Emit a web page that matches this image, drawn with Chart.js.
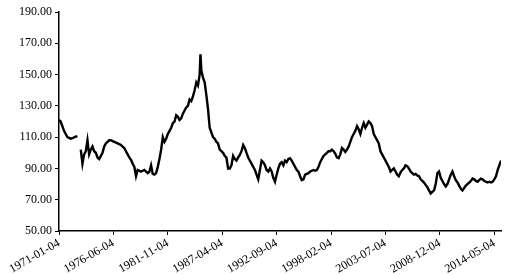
<!DOCTYPE html>
<html lang="zh-cn">
<head>
  <meta charset="UTF-8">
  <title>美元指数</title>
  <script src="https://cdn.jsdelivr.net/npm/chart.js"></script>
  <style>
    body { margin: 0; background: #fff; }
    .grafico { width: 506px; height: 275px; position: relative; }
  </style>
</head>
<body>
  <div class="grafico">
    <canvas id="dxyChart"></canvas>
  </div>

  <script>
    // Datas de cada ponto (ano-mês) e valores
    const dates = [
      '1971-01','1971-03','1971-05','1971-07','1971-09','1971-11',
      '1972-01','1972-03','1972-05','1972-07','1972-09','1972-11',
      '1973-01','1973-03','1973-05','1973-07','1973-09','1973-11',
      '1974-01','1974-03','1974-05','1974-07','1974-09','1974-11',
      '1975-01','1975-03','1975-05','1975-07','1975-09','1975-11',
      '1976-01','1976-03','1976-05','1976-07','1976-09','1976-11',
      '1977-01','1977-03','1977-05','1977-07','1977-09','1977-11',
      '1978-01','1978-03','1978-05','1978-07','1978-09','1978-11',
      '1979-01','1979-03','1979-05','1979-07','1979-09','1979-11',
      '1980-01','1980-03','1980-05','1980-07','1980-09','1980-11',
      '1981-01','1981-03','1981-05','1981-07','1981-09','1981-11',
      '1982-01','1982-03','1982-05','1982-07','1982-09','1982-11',
      '1983-01','1983-03','1983-05','1983-07','1983-09','1983-11',
      '1984-01','1984-03','1984-05','1984-07','1984-09','1984-11',
      '1985-01','1985-02','1985-03','1985-05','1985-07','1985-09','1985-11',
      '1986-01','1986-03','1986-05','1986-07','1986-09','1986-11',
      '1987-01','1987-03','1987-05','1987-07','1987-09','1987-11',
      '1988-01','1988-03','1988-05','1988-07','1988-09','1988-11',
      '1989-01','1989-03','1989-05','1989-07','1989-09','1989-11',
      '1990-01','1990-03','1990-05','1990-07','1990-09','1990-11',
      '1991-01','1991-03','1991-05','1991-07','1991-09','1991-11',
      '1992-01','1992-03','1992-05','1992-07','1992-09','1992-11',
      '1993-01','1993-03','1993-05','1993-07','1993-09','1993-11',
      '1994-01','1994-03','1994-05','1994-07','1994-09','1994-11',
      '1995-01','1995-03','1995-05','1995-07','1995-09','1995-11',
      '1996-01','1996-03','1996-05','1996-07','1996-09','1996-11',
      '1997-01','1997-03','1997-05','1997-07','1997-09','1997-11',
      '1998-01','1998-03','1998-05','1998-07','1998-09','1998-11',
      '1999-01','1999-03','1999-05','1999-07','1999-09','1999-11',
      '2000-01','2000-03','2000-05','2000-07','2000-09','2000-11',
      '2001-01','2001-03','2001-05','2001-07','2001-09','2001-11',
      '2002-01','2002-03','2002-05','2002-07','2002-09','2002-11',
      '2003-01','2003-03','2003-05','2003-07','2003-09','2003-11',
      '2004-01','2004-03','2004-05','2004-07','2004-09','2004-11',
      '2005-01','2005-03','2005-05','2005-07','2005-09','2005-11',
      '2006-01','2006-03','2006-05','2006-07','2006-09','2006-11',
      '2007-01','2007-03','2007-05','2007-07','2007-09','2007-11',
      '2008-01','2008-03','2008-05','2008-07','2008-09','2008-11',
      '2009-01','2009-03','2009-05','2009-07','2009-09','2009-11',
      '2010-01','2010-03','2010-05','2010-07','2010-09','2010-11',
      '2011-01','2011-03','2011-05','2011-07','2011-09','2011-11',
      '2012-01','2012-03','2012-05','2012-07','2012-09','2012-11',
      '2013-01','2013-03','2013-05','2013-07','2013-09','2013-11',
      '2014-01','2014-03','2014-05','2014-07','2014-09','2014-11',
      '2015-01'
    ];

    const valores = [
      121, 120, 117, 114, 112, 110,
      109.5, 109, 109.3, 109.8, 110.3, 110.7,
      null, 102, 93, 99, 101, 108,
      99, 102, 104, 101, 100, 97,
      96, 98, 100, 104, 106, 107,
      108, 108, 107.5, 107, 106.5, 106,
      105.5, 105, 104, 103, 101, 99,
      97, 95.5, 93, 91, 85, 89,
      88.5, 88, 88.5, 89, 88, 87,
      88, 92, 86.5, 86, 87, 91,
      96, 102, 110, 107, 109, 112,
      114, 116, 119, 120, 124, 123,
      121, 122, 125, 127, 129, 130,
      134, 133, 136, 140, 145, 143,
      150, 163, 153, 148, 145, 137, 128,
      116, 113, 110, 109, 107, 106,
      102, 101, 100, 98, 97, 90,
      90, 92, 98, 96, 95, 97,
      98.6, 101, 105, 103, 100, 97,
      95, 93, 91, 89, 86, 83,
      89, 95, 94, 92, 89, 88,
      90, 88, 84, 81.5, 86, 90,
      93, 94, 92, 95, 94, 96,
      96.5, 95, 93, 91, 89, 88,
      85, 82.5, 83, 86, 86.5, 87,
      88, 88.5, 89, 88.5, 89, 91,
      94, 96, 98, 99, 100, 101,
      101, 102, 101, 99.5, 97, 96.5,
      99, 103, 102, 100.5, 102, 104,
      107, 110, 112, 114, 117, 115,
      112, 116, 119, 116, 118, 120,
      119, 117, 112, 110, 108, 106,
      101, 99, 97, 95, 93, 91,
      88, 89, 90, 88, 86, 85,
      87.5, 89, 90, 92, 91.5, 90,
      88, 87, 86, 86.5, 85.5, 85,
      83, 82, 81, 79.5, 78, 76,
      74, 75, 76, 80, 87, 88,
      84, 82, 80, 78.5, 80, 83,
      86, 88, 85, 82.5, 81, 79,
      77, 76, 77.5, 79, 80, 81,
      82, 83.5, 83, 82, 81.5, 82.5,
      83.5, 83, 82, 81.5, 81, 81.5,
      81, 81.5, 83, 85, 89, 92,
      95
    ];

    // Rótulos do eixo X (a cada 65 meses a partir de 1971-01)
    const rotulosX = ['1971-01-04','1976-06-04','1981-11-04','1987-04-04','1992-09-04',
                      '1998-02-04','2003-07-04','2008-12-04','2014-05-04'];
    const ticksY = [50, 70, 90, 110, 130, 150, 170, 190];

    // converte 'AAAA-MM' em meses desde 1971-01
    function mesIndex(d) {
      const [a, m] = d.split('-').map(Number);
      return (a - 1971) * 12 + (m - 1);
    }

    const pontos = dates.map((d, i) => ({ x: mesIndex(d), y: valores[i] }));
    const posTicksX = rotulosX.map(r => mesIndex(r.slice(0, 7)));

    const fonte = { family: '"Liberation Serif", "Times New Roman", serif', size: 12 };

    const ctx = document.getElementById('dxyChart').getContext('2d');
    new Chart(ctx, {
      type: 'line',
      data: {
        datasets: [{
          data: pontos,
          borderColor: '#000',
          borderWidth: 2.4,
          pointRadius: 0,
          tension: 0,
          spanGaps: false
        }]
      },
      options: {
        responsive: true,
        maintainAspectRatio: false,
        animation: false,
        layout: { padding: { top: 12, right: 5, left: 0, bottom: 0 } },
        plugins: { legend: { display: false }, tooltip: { enabled: false } },
        scales: {
          x: {
            type: 'linear',
            min: 0,
            max: 528,
            afterBuildTicks: scale => { scale.ticks = posTicksX.map(v => ({ value: v })); },
            afterFit: scale => { scale.height = 44; },
            ticks: {
              autoSkip: false,
              minRotation: 30,
              maxRotation: 30,
              color: '#000',
              font: fonte,
              padding: 1,
              callback: (v) => rotulosX[posTicksX.indexOf(v)]
            },
            grid: { drawOnChartArea: false, tickLength: 4, color: '#000' },
            border: { color: '#000', width: 1.5 }
          },
          y: {
            min: 50,
            max: 190,
            afterBuildTicks: scale => { scale.ticks = ticksY.map(v => ({ value: v })); },
            afterFit: scale => { scale.width = 59; },
            ticks: {
              color: '#000',
              font: fonte,
              padding: 3,
              callback: v => v.toFixed(2)
            },
            grid: { drawOnChartArea: false, tickLength: 4, color: '#000' },
            border: { color: '#000', width: 1.5 }
          }
        }
      }
    });
  </script>
</body>
</html>
